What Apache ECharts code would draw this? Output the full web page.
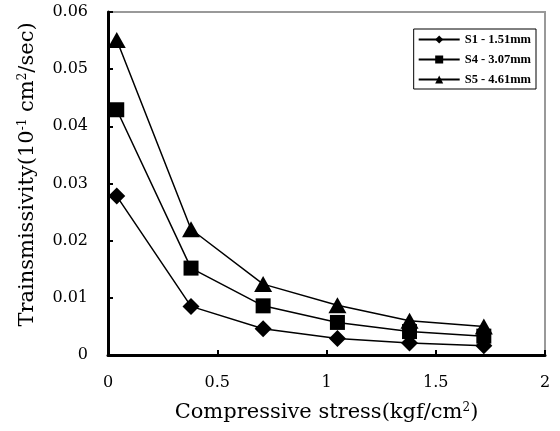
<!DOCTYPE html>
<html>
<head>
<meta charset="utf-8">
<script src="https://cdn.jsdelivr.net/npm/echarts@6/dist/echarts.min.js"></script>
<style>
  html, body { margin: 0; padding: 0; background: #fff; }
  #chart { width: 560px; height: 431px; }
</style>
</head>
<body>
<div id="chart"></div>
<script>
// compressive stress (kgf/cm2) at each measurement
const stress = [0.04, 0.38, 0.71, 1.05, 1.38, 1.72];
// transmissivity (10^-1 cm2/sec)
const s1 = [0.0278, 0.0085, 0.0046, 0.0029, 0.0021, 0.0016];
const s4 = [0.0429, 0.0152, 0.0086, 0.0057, 0.0041, 0.0033];
const s5 = [0.0551, 0.0220, 0.0124, 0.0087, 0.0060, 0.0050];
const seriesNames = ["S1 - 1.51mm", "S4 - 3.07mm", "S5 - 4.61mm"];

const chart = echarts.init(document.getElementById("chart"));
const serif = "DejaVu Serif";

function pairs(ys) {
  return stress.map((x, i) => [x, ys[i]]);
}

function makeSeries(name, ys, symbol, size) {
  return {
    name: name,
    type: "line",
    data: pairs(ys),
    symbol: symbol,
    symbolSize: size,
    showSymbol: true,
    itemStyle: { color: "#000" },
    lineStyle: { color: "#000", width: 1.5 },
    emphasis: { disabled: true },
    z: 3
  };
}

const supStyle = { fontFamily: serif, fontSize: 12, verticalAlign: "top", padding: [0, 0, 9, 0] };

const option = {
  animation: false,
  backgroundColor: "#fff",
  grid: {
    left: 108,
    right: 15,
    top: 12,
    bottom: 76,
    show: true,
    borderColor: "#999",
    borderWidth: 2
  },
  legend: {
    right: 24,
    top: 29,
    orient: "vertical",
    data: seriesNames,
    backgroundColor: "#fff",
    borderColor: "#000",
    borderWidth: 1,
    padding: [4, 5, 3, 4],
    itemWidth: 41,
    itemHeight: 10,
    itemGap: 7,
    textStyle: {
      fontFamily: "Liberation Serif",
      fontWeight: "bold",
      fontSize: 12.5,
      color: "#000"
    }
  },
  xAxis: {
    type: "value",
    min: 0,
    max: 2,
    interval: 0.5,
    name: "Compressive stress(kgf/cm{sup|2})",
    nameLocation: "middle",
    nameGap: 47,
    nameTextStyle: {
      fontFamily: serif,
      fontSize: 21,
      color: "#000",
      rich: { sup: supStyle }
    },
    axisLine: { onZero: false, lineStyle: { color: "#000", width: 3 } },
    axisTick: { inside: true, length: 5, lineStyle: { color: "#000", width: 2 } },
    axisLabel: {
      margin: 20,
      fontFamily: serif,
      fontSize: 16,
      color: "#000",
      formatter: v => String(v)
    },
    splitLine: { show: false }
  },
  yAxis: {
    type: "value",
    min: 0,
    max: 0.06,
    interval: 0.01,
    name: "Trainsmissivity(10{sup|-1} cm{sup|2}/sec)",
    nameLocation: "middle",
    nameGap: 70,
    nameTextStyle: {
      fontFamily: serif,
      fontSize: 21,
      color: "#000",
      padding: [0, 0, 0, 18],
      rich: { sup: supStyle }
    },
    axisLine: { onZero: false, lineStyle: { color: "#000", width: 3 } },
    axisTick: { inside: true, length: 5, lineStyle: { color: "#000", width: 2 } },
    axisLabel: {
      margin: 20,
      fontFamily: serif,
      fontSize: 16,
      color: "#000",
      formatter: v => String(Math.round(v * 100) / 100)
    },
    splitLine: { show: false }
  },
  series: [
    makeSeries(seriesNames[0], s1, "diamond", 17),
    makeSeries(seriesNames[1], s4, "rect", 15),
    makeSeries(seriesNames[2], s5, "triangle", [18, 16])
  ]
};

chart.setOption(option);
</script>
</body>
</html>
